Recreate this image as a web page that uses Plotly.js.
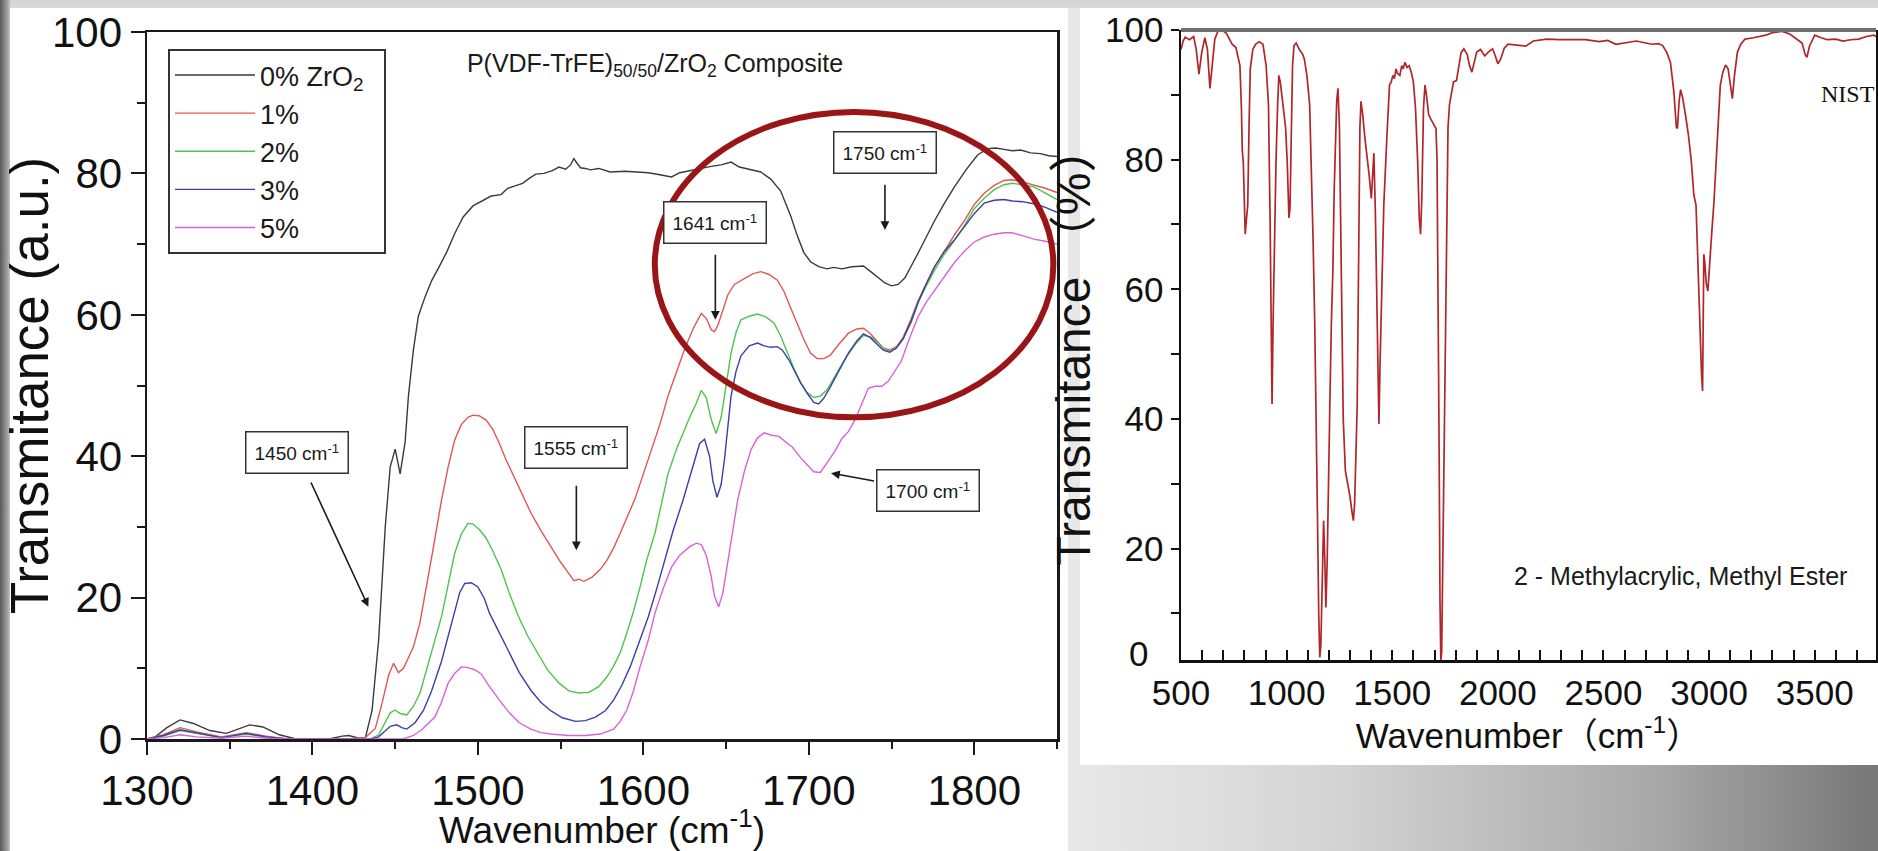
<!DOCTYPE html>
<html>
<head>
<meta charset="utf-8">
<script src="https://cdn.plot.ly/plotly-3.0.1.min.js"></script>
<style>
html, body { margin:0; padding:0; }
body {
  width:1878px; height:851px; overflow:hidden;
  background:
    linear-gradient(to right, #5a5a5a 0px, #9a9a9a 7px, #c4c4c4 10px, rgba(0,0,0,0) 10px),
    linear-gradient(to bottom, #d3d3d3 0px, #d8d8d8 8px, rgba(0,0,0,0) 8px),
    linear-gradient(to right, #ececec 0%, #e8e8e8 57%, #d6d6d6 70%, #a9a9a9 88%, #777777 100%);
}
#chart { position:absolute; left:0; top:0; width:1878px; height:851px; }
</style>
</head>
<body>
<div id="chart"></div>
<script>
// ---------------- Left panel: P(VDF-TrFE)/ZrO2 composite FTIR ----------------
const seriesNames = ['0% ZrO<sub>2</sub>\u00a0\u00a0', '1%', '2%', '3%', '5%'];

const wn0 = [1300,1305,1312,1320,1328,1338,1348,1355,1362,1370,1380,1390,1400,1410,1418,1422,1428,1432,1436,1440,1444,1447,1450,1453,1456,1458,1461,1464,1468,1472,1477,1481,1486,1491,1497,1502,1508,1514,1518,1522,1527,1531,1535,1540,1545,1549,1553,1556,1558,1560,1562,1565,1568,1573,1580,1589,1596,1603,1610,1617,1622,1628,1635,1641,1647,1653,1658,1664,1671,1677,1683,1689,1693,1697,1701,1706,1711,1715,1720,1726,1733,1738,1742,1746,1750,1754,1758,1762,1766,1771,1776,1782,1788,1795,1802,1808,1813,1818,1823,1828,1834,1840,1845,1850];
const t0  = [0.0,0.3,1.6,2.7,2.2,1.2,0.8,1.4,2.0,1.7,0.6,0.0,0.0,0.0,0.4,0.5,0.1,0.2,4.0,14.0,30.0,38.5,41.0,37.5,42.0,48.5,55.0,59.8,62.5,64.8,67.0,68.8,71.5,73.8,75.4,76.0,76.8,77.0,77.9,78.2,78.6,79.3,79.9,80.0,80.4,80.9,80.6,81.2,82.1,81.4,80.8,80.7,80.5,80.7,80.2,80.3,80.2,80.1,79.8,79.5,80.1,80.4,80.8,81.0,81.2,81.6,80.9,80.6,80.2,79.2,77.5,74.0,71.2,68.8,67.5,66.8,66.5,66.7,66.5,66.8,66.9,66.0,65.2,64.5,64.1,64.3,65.2,66.9,68.7,71.0,73.3,75.8,78.1,80.5,82.6,83.5,83.6,83.4,83.2,83.3,82.9,82.8,82.5,82.4];

const wn1 = [1300,1310,1320,1330,1345,1360,1372,1385,1400,1420,1432,1438,1442,1446,1449,1452,1455,1458,1461,1465,1469,1473,1478,1482,1486,1490,1494,1497,1501,1505,1509,1513,1517,1522,1527,1532,1538,1544,1550,1555,1558,1561,1564,1569,1574,1578,1582,1586,1590,1595,1600,1605,1610,1615,1620,1625,1630,1635,1638,1641,1643,1645,1648,1651,1655,1660,1666,1671,1676,1681,1685,1689,1693,1697,1701,1705,1709,1713,1718,1724,1729,1733,1737,1741,1745,1749,1753,1757,1762,1766,1771,1776,1782,1788,1794,1800,1806,1812,1818,1823,1829,1836,1843,1850];
const t1  = [0.0,0.6,1.6,1.0,0.3,0.9,0.4,0.0,0.0,0.0,0.2,1.5,5.0,9.0,10.7,9.4,10.0,11.5,13.0,16.5,21.5,27.0,33.8,38.5,42.3,44.5,45.5,45.8,45.7,45.1,43.8,41.8,39.5,37.0,34.4,32.0,29.5,27.2,25.0,23.4,22.4,22.6,22.3,22.9,24.0,25.3,27.0,29.1,31.4,34.0,37.5,41.0,44.5,48.6,52.0,55.2,58.0,60.2,59.5,57.9,57.6,58.5,60.6,62.8,64.3,65.0,65.8,66.1,65.7,64.9,63.3,61.0,58.8,56.5,54.6,53.8,53.8,54.3,55.8,57.4,58.0,58.1,57.4,56.3,55.3,55.0,55.5,56.8,59.5,62.0,64.5,66.8,69.0,71.3,73.3,75.6,77.2,78.3,79.0,79.1,78.8,78.4,77.9,77.3];

const wn2 = [1300,1310,1320,1330,1345,1360,1372,1385,1420,1435,1440,1444,1447,1450,1453,1457,1461,1465,1469,1474,1478,1482,1486,1490,1494,1497,1501,1505,1509,1514,1519,1524,1530,1536,1542,1549,1555,1561,1567,1573,1578,1582,1586,1590,1594,1598,1602,1607,1611,1615,1620,1624,1628,1632,1635,1638,1641,1644,1647,1650,1653,1656,1659,1664,1669,1674,1679,1683,1687,1691,1695,1699,1703,1707,1711,1716,1722,1728,1733,1738,1742,1746,1750,1753,1757,1762,1766,1771,1776,1782,1788,1794,1800,1806,1812,1818,1823,1829,1836,1843,1850];
const t2  = [0.0,0.4,1.2,0.8,0.2,0.7,0.3,0.0,0.0,0.0,0.6,2.4,3.7,4.1,3.6,3.4,4.6,6.5,9.8,14.0,17.3,21.8,26.3,29.0,30.5,30.4,29.6,28.4,26.6,24.0,20.6,17.6,14.6,12.2,9.8,7.9,6.8,6.5,6.6,7.4,8.8,10.3,12.2,15.0,18.0,21.5,25.3,29.1,33.5,37.6,41.0,43.3,45.5,47.5,49.3,48.3,45.2,43.2,45.5,50.0,54.6,57.5,59.3,59.8,60.1,59.7,58.8,57.0,54.6,52.4,50.4,49.0,48.3,48.5,49.4,51.4,53.8,55.8,57.1,56.8,56.0,55.0,54.9,55.4,56.6,59.0,61.7,64.1,66.3,68.6,70.5,72.6,75.0,76.5,77.7,78.4,78.6,78.4,78.1,77.2,76.3];

const wn3 = [1300,1310,1320,1330,1345,1360,1372,1385,1435,1440,1444,1447,1451,1454,1457,1462,1467,1472,1478,1482,1486,1489,1492,1496,1500,1504,1507,1512,1519,1525,1532,1538,1544,1551,1559,1565,1571,1577,1582,1587,1592,1597,1603,1608,1613,1618,1624,1629,1634,1637,1640,1642,1644.5,1647,1649,1651,1653,1656,1659,1664,1669,1673,1677,1681,1684,1688,1691,1695,1699,1703,1706,1709,1713,1718,1724,1729,1733,1737,1741,1745,1749,1753,1757,1762,1766,1771,1776,1782,1788,1794,1800,1806,1812,1818,1823,1829,1836,1843,1850];
const t3  = [0.0,0.5,1.3,0.9,0.2,0.8,0.3,0.0,0.0,0.3,1.2,1.8,2.0,1.6,1.4,2.3,4.0,6.8,11.0,14.6,18.4,20.7,22.0,22.1,21.5,19.8,17.8,15.5,12.2,9.4,6.9,5.2,4.0,3.0,2.5,2.6,3.1,4.0,5.5,7.6,10.2,13.5,17.3,21.2,25.3,29.5,33.8,38.0,41.8,42.4,40.0,36.5,34.2,36.0,39.5,44.0,48.5,52.0,54.2,55.6,56.0,55.6,55.4,55.5,55.0,53.6,52.2,50.4,48.9,47.6,47.4,48.2,49.8,52.0,54.6,56.3,57.3,56.8,55.9,55.0,54.7,55.3,56.6,59.2,61.7,64.4,66.8,69.0,70.6,72.5,74.3,75.8,76.2,76.3,76.1,76.0,75.7,75.2,74.5];

const wn5 = [1300,1310,1320,1330,1345,1360,1372,1385,1455,1461,1466,1470,1474,1478,1482,1486,1490,1494,1498,1502,1507,1513,1519,1525,1532,1538,1544,1555,1565,1574,1578,1582,1586,1590,1594,1598,1603,1607,1612,1617,1622,1628,1632,1635,1638,1641,1643,1645.5,1648,1651,1654,1657,1661,1665,1669,1673,1677,1682,1686,1690,1695,1699,1703,1707,1711,1716,1720,1724,1728,1732,1736,1740,1744,1748,1752,1756,1761,1766,1771,1776,1782,1788,1794,1800,1806,1812,1818,1823,1829,1836,1843,1850];
const t5  = [0.0,0.2,0.6,0.3,0.1,0.4,0.1,0.0,0.0,0.5,1.3,2.2,3.1,5.2,7.9,9.3,10.2,10.1,9.8,9.2,7.4,5.5,3.7,2.3,1.4,0.9,0.7,0.5,0.5,0.7,1.0,1.4,2.5,4.1,6.8,10.2,14.0,17.8,21.3,24.3,26.0,27.2,27.7,27.5,26.0,23.0,20.2,18.7,20.6,24.8,29.5,33.8,37.8,40.9,42.6,43.3,43.0,42.8,42.0,41.3,39.8,38.8,37.8,37.7,39.0,40.8,42.5,43.5,45.2,47.5,49.6,49.9,49.9,50.6,52.0,53.5,56.8,59.7,61.8,63.5,65.5,67.4,69.0,70.3,71.0,71.4,71.6,71.6,71.2,70.7,70.4,70.0];

const seriesColors = ['#3a3a3a', '#e05656', '#4ec44e', '#3b3fa6', '#d862d8'];

// peak annotation labels (left panel): box centre and arrow tip in data units
const peakLabels = ['1450 cm<sup>-1</sup>', '1555 cm<sup>-1</sup>', '1700 cm<sup>-1</sup>', '1641 cm<sup>-1</sup>', '1750 cm<sup>-1</sup>'];
const labelX = [1390.8, 1559.5, 1772.2, 1643.5, 1746.0];
const labelY = [40.5, 41.3, 35.1, 73.0, 82.9];
const arrowTipX = [1433.8, 1559.5, 1713.4, 1643.5, 1746.0];
const arrowTipY = [18.7, 26.7, 37.6, 59.3, 72.0];
const arrowGap  = [10, 18, 3, 11, 11];

// ---------------- Right panel: NIST spectrum, 2-Methylacrylic methyl ester ----------------
const wnNist = [500,510,520,540,560,572,585,598,613,625,637,648,660,675,694,715,742,760,779,786,790,795,800,804,809,816,822,828,840,853,870,888,903,914,922,928,931,936,943,950,957,963,970,978,987,995,1003,1011,1016,1022,1028,1035,1045,1060,1075,1084,1096,1109,1115,1125,1133,1140,1146,1152,1157,1162,1168,1175,1181,1186,1192,1198,1205,1212,1219,1225,1231,1237,1243,1250,1256,1262,1268,1278,1290,1300,1310,1316,1322,1328,1334,1338,1342,1347,1352,1360,1370,1380,1391,1401,1407,1413,1420,1428,1437,1442,1450,1460,1475,1482,1487,1495,1503,1510,1518,1525,1536,1545,1552,1560,1570,1580,1590,1600,1610,1620,1628,1634,1640,1648,1655,1662,1672,1682,1695,1707,1712,1718,1722,1726,1730,1734,1738,1743,1749,1756,1764,1771,1779,1790,1804,1815,1826,1839,1855,1866,1877,1888,1900,1918,1938,1955,1975,1988,2000,2013,2030,2048,2090,2132,2168,2230,2292,2350,2414,2480,2520,2559,2600,2656,2700,2730,2760,2780,2800,2817,2833,2845,2850,2858,2865,2875,2890,2902,2915,2928,2938,2946,2952,2958,2964,2969,2972,2975,2980,2986,2994,3002,3012,3023,3035,3045,3053,3065,3078,3090,3100,3110,3120,3134,3150,3170,3210,3268,3300,3343,3380,3415,3440,3455,3463,3475,3500,3530,3560,3600,3634,3670,3708,3745,3780,3790];
const tNist = [97.0,98.3,98.9,98.5,99.0,97.0,93.2,96.5,98.8,97.0,91.0,95.0,98.6,99.8,100.0,99.5,97.8,97.3,94.5,88.0,81.5,79.5,72.0,68.5,70.5,73.0,85.0,94.0,97.0,97.8,98.2,97.8,94.5,88.5,70.0,50.0,42.3,55.0,70.0,80.0,88.0,93.0,92.0,90.0,87.5,85.0,79.5,71.0,72.5,85.0,94.5,97.6,98.0,97.0,96.3,95.5,93.0,88.5,82.0,68.0,55.0,42.0,25.0,10.0,3.2,5.0,14.0,24.3,18.0,10.9,18.0,32.0,43.0,55.0,63.0,75.0,84.0,89.0,91.0,85.0,70.0,52.0,40.0,32.0,30.0,28.0,25.5,24.3,27.0,33.0,42.0,55.0,72.0,85.0,89.0,87.0,83.5,81.0,77.5,74.0,77.5,81.0,72.0,55.0,39.2,48.0,60.0,73.0,83.8,89.0,91.5,92.0,93.0,92.5,94.0,93.3,93.0,94.5,94.0,95.0,94.2,94.5,93.5,92.0,88.0,80.0,71.0,68.5,74.0,88.0,91.5,90.0,87.0,86.3,85.5,84.8,80.0,60.0,35.0,12.0,2.8,4.0,15.0,32.0,48.0,70.0,85.0,88.5,90.0,92.0,92.2,94.5,96.5,97.1,96.2,94.5,93.5,95.0,96.6,97.0,96.0,96.6,97.1,96.0,94.8,95.5,97.2,97.8,97.7,97.5,98.3,98.6,98.5,98.5,98.5,98.2,98.4,97.8,98.0,98.3,98.0,97.8,97.9,97.6,96.5,95.0,90.5,85.0,84.8,89.0,90.8,89.5,86.5,83.8,80.0,74.5,73.0,65.0,57.0,51.0,47.0,44.3,55.0,65.4,64.0,61.0,59.7,63.0,68.5,73.5,80.0,87.0,91.5,93.5,94.6,94.0,91.5,89.4,93.0,96.6,97.8,98.6,98.8,99.2,99.6,99.8,99.4,98.6,98.0,96.2,95.8,97.5,99.2,98.8,98.5,98.6,98.3,98.5,98.6,99.0,99.2,99.0];

// ---------------- build ----------------
const W = 1878, H = 851;
const px = v => v / W;          // horizontal pixel -> paper fraction
const py = v => 1 - v / H;      // vertical pixel -> paper fraction
const FONT = 'Liberation Sans, Arial, Helvetica, "Noto Sans CJK SC", sans-serif';

const leftX = [wn0, wn1, wn2, wn3, wn5];
const leftY = [t0, t1, t2, t3, t5];

const traces = leftX.map((xs, i) => ({
  type: 'scatter', mode: 'lines', x: xs, y: leftY[i],
  name: seriesNames[i], xaxis: 'x', yaxis: 'y',
  line: { color: seriesColors[i], width: 1.4 },
  hoverinfo: 'skip'
}));
traces.push({
  type: 'scatter', mode: 'lines', x: wnNist, y: tNist,
  xaxis: 'x2', yaxis: 'y2', showlegend: false,
  line: { color: '#b0262b', width: 1.7 }, hoverinfo: 'skip'
});

const annotations = peakLabels.map((txt, i) => ({
  xref: 'x', yref: 'y', axref: 'x', ayref: 'y',
  x: arrowTipX[i], y: arrowTipY[i], ax: labelX[i], ay: labelY[i],
  text: txt, showarrow: true, arrowhead: 2, arrowsize: 1.1, arrowwidth: 1.6, arrowcolor: '#1a1a1a',
  startstandoff: arrowGap[i], standoff: 0,
  bgcolor: '#ffffff', bordercolor: '#333333', borderwidth: 1.5, borderpad: 8,
  font: { family: FONT, size: 19, color: '#1a1a1a' }
}));
annotations.push({
  xref: 'paper', yref: 'paper', x: px(1848), y: py(94), xanchor: 'center', yanchor: 'middle',
  text: 'NIST', showarrow: false,
  font: { family: 'Liberation Serif, Times New Roman, serif', size: 24, color: '#111' }
});
annotations.push({
  xref: 'paper', yref: 'paper', x: px(1680), y: py(576), xanchor: 'center', yanchor: 'middle',
  text: '2 - Methylacrylic, Methyl Ester', showarrow: false,
  font: { family: FONT, size: 25, color: '#1a1a1a' }
});
annotations.push({
  xref: 'paper', yref: 'paper', x: px(1138), y: py(653), xanchor: 'center', yanchor: 'middle',
  text: '0', showarrow: false,
  font: { family: FONT, size: 35, color: '#111' }
});

const layout = {
  width: W, height: H,
  margin: { l: 0, r: 0, t: 0, b: 0 },
  paper_bgcolor: 'rgba(0,0,0,0)', plot_bgcolor: 'rgba(0,0,0,0)',
  font: { family: FONT, color: '#111' },
  showlegend: true,
  title: {
    text: 'P(VDF-TrFE)<sub>50/50</sub>/ZrO<sub>2</sub> Composite',
    xref: 'paper', yref: 'paper', x: px(655), y: py(63), xanchor: 'center', yanchor: 'middle',
    font: { family: FONT, size: 25, color: '#1a1a1a' }
  },
  legend: {
    x: px(168), y: py(49), xanchor: 'left', yanchor: 'top',
    bgcolor: '#ffffff', bordercolor: '#333333', borderwidth: 2,
    font: { family: FONT, size: 27, color: '#1a1a1a' }, itemwidth: 80, tracegroupgap: 0
  },
  xaxis: {
    domain: [px(147), px(1057)], range: [1300, 1850], anchor: 'y',
    showline: true, linecolor: '#1a1a1a', linewidth: 2.5, mirror: true,
    showgrid: false, zeroline: false,
    tick0: 1300, dtick: 100, ticks: 'outside', ticklen: 13, tickwidth: 2, tickcolor: '#1a1a1a',
    minor: { dtick: 50, tick0: 1300, ticks: 'outside', ticklen: 7, tickwidth: 2, tickcolor: '#1a1a1a', showgrid: false },
    tickfont: { family: FONT, size: 42, color: '#111' },
    title: { text: 'Wavenumber (cm<sup>-1</sup>)', font: { family: FONT, size: 37, color: '#111' }, standoff: 16 }
  },
  yaxis: {
    domain: [py(739), py(32)], range: [0, 100], anchor: 'x',
    showline: true, linecolor: '#1a1a1a', linewidth: 2.5, mirror: true,
    showgrid: false, zeroline: false,
    tick0: 0, dtick: 20, ticks: 'outside', ticklen: 14, tickwidth: 2, tickcolor: '#1a1a1a',
    minor: { dtick: 10, tick0: 0, ticks: 'outside', ticklen: 8, tickwidth: 2, tickcolor: '#1a1a1a', showgrid: false },
    tickfont: { family: FONT, size: 42, color: '#111' },
    title: { text: 'Transmitance (a.u.)\u00a0\u00a0\u00a0\u00a0\u00a0\u00a0\u00a0\u00a0', font: { family: FONT, size: 53, color: '#111' }, standoff: 2 }
  },
  xaxis2: {
    domain: [px(1181), px(1876)], range: [500, 3790], anchor: 'y2',
    showline: true, linecolor: '#111', linewidth: 2.5, mirror: false,
    showgrid: false, zeroline: false,
    tick0: 500, dtick: 500, ticks: 'inside', ticklen: 10, tickwidth: 2, tickcolor: '#111',
    minor: { dtick: 100, tick0: 500, ticks: 'inside', ticklen: 10, tickwidth: 2, tickcolor: '#111', showgrid: false },
    tickfont: { family: FONT, size: 35, color: '#111' },
    title: { text: 'Wavenumber（cm<sup>-1</sup>）', font: { family: FONT, size: 35, color: '#111' }, standoff: 6 }
  },
  xaxis3: {
    overlaying: 'x2', anchor: 'y2', range: [500, 3790], side: 'bottom',
    showline: false, showgrid: false, zeroline: false, showticklabels: false,
    tick0: 1000, dtick: 1000, ticks: 'inside', ticklen: 18, tickwidth: 2, tickcolor: '#111'
  },
  yaxis2: {
    domain: [py(660), py(30)], range: [2.8, 100], anchor: 'x2',
    showline: true, linecolor: '#111', linewidth: 2.5, mirror: true,
    showgrid: false, zeroline: false,
    tick0: 0, dtick: 20, ticks: 'outside', ticklen: 8, tickwidth: 2, tickcolor: '#111',
    minor: { dtick: 10, tick0: 0, ticks: 'outside', ticklen: 8, tickwidth: 2, tickcolor: '#111', showgrid: false },
    tickfont: { family: FONT, size: 35, color: '#111' },
    title: { text: 'Transmitance\u00a0（%）', font: { family: FONT, size: 48, color: '#111' }, standoff: 0 }
  },
  shapes: [
    { type: 'rect', xref: 'paper', yref: 'paper', x0: px(10), x1: px(1068), y0: 0, y1: py(8),
      fillcolor: '#ffffff', line: { width: 0 }, layer: 'below' },
    { type: 'rect', xref: 'paper', yref: 'paper', x0: px(1080), x1: 1, y0: py(765), y1: py(8),
      fillcolor: '#ffffff', line: { width: 0 }, layer: 'below' },
    { type: 'line', xref: 'x2 domain', yref: 'y2 domain', x0: 0, x1: 1, y0: 1, y1: 1,
      line: { color: '#6e6e6e', width: 4 } },
    { type: 'circle', xref: 'x', yref: 'y', x0: 1606.9, x1: 1847.8, y0: 45.5, y1: 88.7,
      line: { color: '#9a1515', width: 6 } }
  ],
  annotations: annotations
};

Plotly.newPlot('chart', traces, layout, { staticPlot: true, displayModeBar: false });
</script>
</body>
</html>
